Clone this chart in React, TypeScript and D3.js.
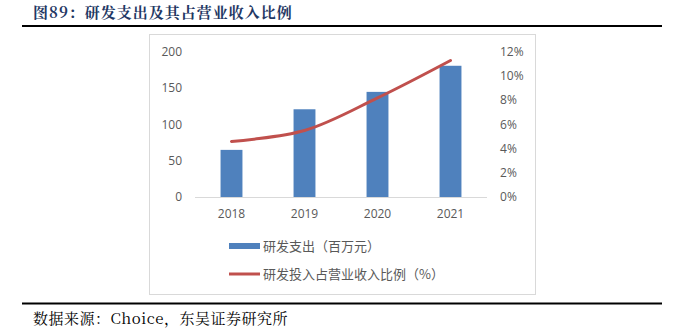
import React from "react";
import * as d3 from "d3";

const categories = ["2018", "2019", "2020", "2021"];
const rdExpense = [65, 121, 145, 181];
const rdRatio = [4.6, 5.5, 8.2, 11.3];
const leftTicks = [0, 50, 100, 150, 200];
const rightTicks = [0, 2, 4, 6, 8, 10, 12];
const title = "图89：研发支出及其占营业收入比例";
const source = "数据来源：Choice，东吴证券研究所";
const legendLabels = ["研发支出（百万元）", "研发投入占营业收入比例（%）"];

export default function App() {
  const W = 677, H = 329;
  const x = d3.scaleBand().domain(categories).range([195, 487]).paddingInner(0.7).paddingOuter(0.35);
  const xc = d3.scaleBand().domain(categories).range([195, 487]);
  const yL = d3.scaleLinear().domain([0, 200]).range([197, 52]);
  const yR = d3.scaleLinear().domain([0, 12]).range([197, 52]);
  const line = d3
    .line<number>()
    .x((_, i) => (xc(categories[i]) as number) + xc.bandwidth() / 2)
    .y((d) => yR(d))
    .curve(d3.curveCatmullRom.alpha(0.5));
  const axisFont = "'Open Sans', 'Noto Sans', sans-serif";
  const cjk = "'Noto Sans CJK SC', sans-serif";
  return (
    <svg width={W} height={H} style={{ position: "absolute", left: 0, top: 0, background: "#fff" }}>
      <text x={33} y={18} fontFamily={"'Noto Serif CJK SC', 'Noto Sans CJK SC', serif"} fontWeight="bold" fontSize={15} letterSpacing={1} fill="#1F3864">
        {title}
      </text>
      <line x1={22} x2={662} y1={26} y2={26} stroke="#000" strokeWidth={2} />
      <rect x={149.5} y={34.5} width={386} height={260} fill="#fff" stroke="#D9D9D9" strokeWidth={1} />
      <line x1={195} x2={487} y1={197.5} y2={197.5} stroke="#D9D9D9" strokeWidth={1} />
      {rdExpense.map((v, i) => (
        <rect key={i} x={x(categories[i])} y={yL(v)} width={x.bandwidth()} height={yL(0) - yL(v)} fill="#4F81BD" />
      ))}
      <path d={line(rdRatio) || ""} fill="none" stroke="#C0504D" strokeWidth={3} strokeLinecap="round" />
      {leftTicks.map((t) => (
        <text key={t} x={182} y={yL(t) + 4} textAnchor="end" fontFamily={axisFont} fontSize={12} fill="#595959">
          {t}
        </text>
      ))}
      {rightTicks.map((t) => (
        <text key={t} x={500} y={yR(t) + 4} textAnchor="start" fontFamily={axisFont} fontSize={12} fill="#595959">
          {t}%
        </text>
      ))}
      {categories.map((c) => (
        <text key={c} x={(xc(c) as number) + xc.bandwidth() / 2} y={218} textAnchor="middle" fontFamily={axisFont} fontSize={12} fill="#595959">
          {c}
        </text>
      ))}
      <rect x={229} y={243} width={31} height={6} fill="#4F81BD" />
      <text x={263} y={251} fontFamily={cjk} fontSize={13} fill="#595959">{legendLabels[0]}</text>
      <line x1={229} x2={260} y1={274} y2={274} stroke="#C0504D" strokeWidth={3} />
      <text x={263} y={279} fontFamily={cjk} fontSize={13} fill="#595959">{legendLabels[1]}</text>
      <line x1={22} x2={662} y1={303.5} y2={303.5} stroke="#000" strokeWidth={2} />
      <text x={33} y={324} fontFamily={"'Noto Serif CJK SC', 'Liberation Serif', 'Noto Sans CJK SC', serif"} fontSize={15} letterSpacing={0.5} fill="#000">
        {source}
      </text>
    </svg>
  );
}
